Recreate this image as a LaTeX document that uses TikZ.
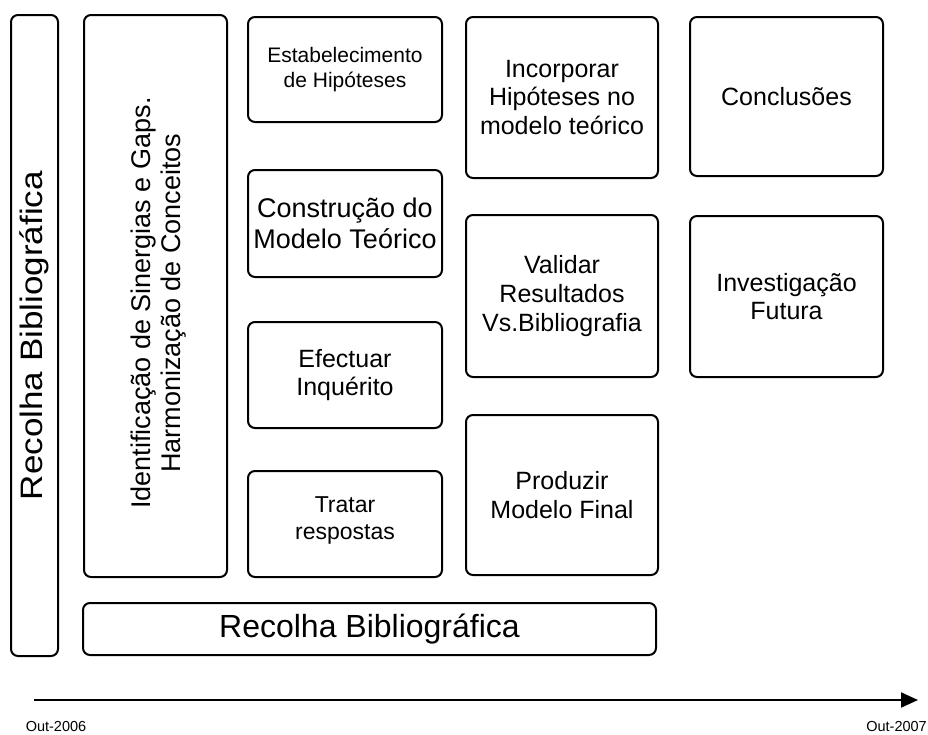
\documentclass[tikz,border=0pt]{standalone}
\usepackage{fontspec}
\setmainfont{Liberation Sans}
\usetikzlibrary{arrows.meta}
\newcommand\setfs[2]{\fontsize{#1}{#2}\selectfont}
\tikzset{
  stage/.style={draw=black, line width=2pt, rounded corners=7pt, fill=white,
    inner sep=0pt, outer sep=0pt, align=center, text=black},
  label/.style={align=center, inner sep=0pt},
  txt25/.style={label, font=\setfs{25}{28.75}},
  datelabel/.style={font=\setfs{14.5}{15}, inner sep=0pt}
}
% box from corner (#1,#2) to (#3,#4), y growing downward
\newcommand\stagebox[5]{%
  \node[stage, minimum width={(#3-#1)*1pt}, minimum height={(#4-#2)*1pt}]
    (#5) at ({(#1+#3)/2},{(#2+#4)/2}) {};}
\begin{document}
\begin{tikzpicture}[x=1pt, y=-1pt]
\useasboundingbox (0,0) rectangle (928,734);

% frame boxes
\stagebox{11}{15}{58}{656}{recv}
\stagebox{84}{15}{227}{577}{ident}
\stagebox{83}{603}{656}{655}{recb}

% second column
\stagebox{248}{17}{442}{122}{est}
\stagebox{248}{170}{442}{277}{cons}
\stagebox{248}{322}{442}{428}{efec}
\stagebox{248}{471}{442}{577}{trat}

% third column
\stagebox{466}{17}{658}{178}{inc}
\stagebox{466}{215}{658}{377}{val}
\stagebox{466}{415}{658}{575}{prod}

% fourth column
\stagebox{690}{17}{883}{176}{concl}
\stagebox{690}{216}{883}{377}{inv}

% texts
\node[label, rotate=90, font=\setfs{31}{31}] at (recv.center)
  {\scalebox{1.13}[1]{Recolha Bibliográfica}};
\node[label, rotate=90, font=\setfs{27}{30}] at ([xshift=3]ident.center |- 0,303)
  {Identificação de Sinergias e Gaps.\\Harmonização de Conceitos};
\node[label, font=\setfs{32}{32}] at (recb.center) {Recolha Bibliográfica};

\node[label, font=\setfs{21}{25}] at (est.center) {Estabelecimento\\de Hipóteses};
\node[label, font=\setfs{27}{31}] at (cons.center) {Construção do\\Modelo Teórico};
\node[txt25] at (efec.center) {Efectuar\\Inquérito};
\node[label, font=\setfs{23}{27}] at ([yshift=4]trat.center) {Tratar\\respostas};

\node[txt25] at (inc.center) {Incorporar\\Hipóteses no\\modelo teórico};
\node[txt25] at (val.center) {Validar\\Resultados\\Vs.Bibliografia};
\node[txt25] at (prod.center) {Produzir\\Modelo Final};

\node[txt25] at (concl.center) {Conclusões};
\node[txt25] at (inv.center) {Investigação\\Futura};

% time axis
\coordinate (tstart) at (34,700);
\coordinate (tend) at (918,700);
\draw[line width=2pt, -{Triangle[length=17pt, width=15pt]}] (tstart) -- (tend);
\node[datelabel] (d0) at (56,726) {Out-2006};
\node[datelabel, anchor=east] (d1) at (927,726) {Out-2007};
\end{tikzpicture}
\end{document}
